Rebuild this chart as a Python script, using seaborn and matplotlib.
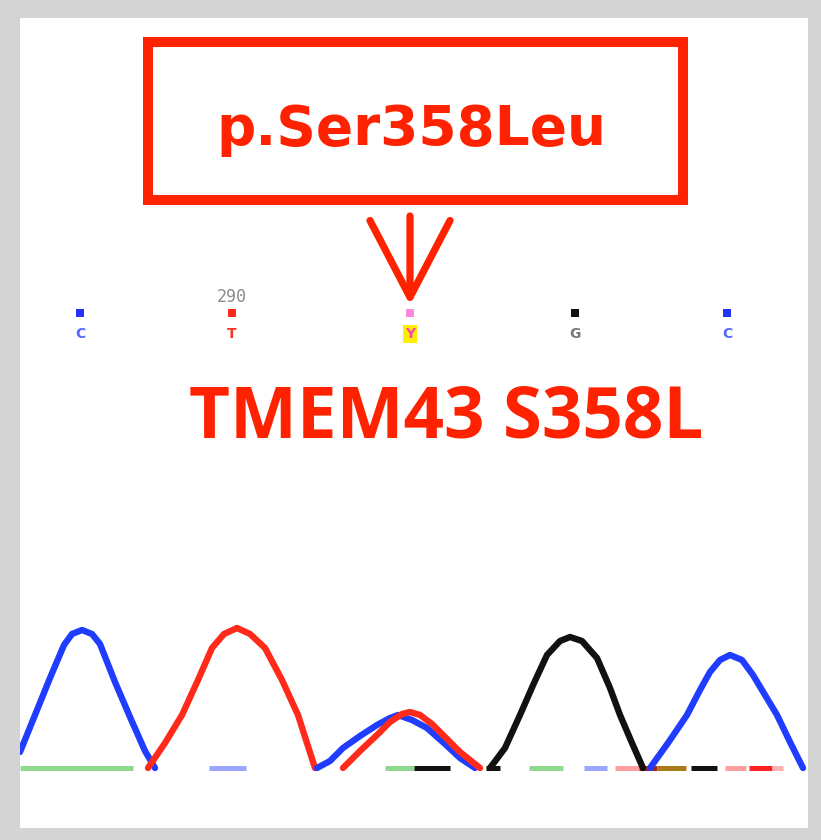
import numpy as np
import pandas as pd
import matplotlib
matplotlib.use("Agg")
import matplotlib.pyplot as plt
import matplotlib.patches as mpatches
import seaborn as sns

# chromatogram traces (scan position, signal height)
blue1_x = [0, 15, 30, 44, 52, 62, 72, 80, 95, 110, 125, 135]
blue1_y = [16, 53, 90, 123, 134, 138, 134, 124, 86, 51, 17, 0]
red1_x = [128, 145, 162, 178, 192, 204, 217, 230, 245, 262, 278, 295]
red1_y = [0, 25, 53, 88, 120, 134, 140, 134, 120, 88, 53, 0]
blue2_x = [297, 310, 323, 340, 357, 370, 378, 392, 407, 425, 440, 455]
blue2_y = [0, 7, 20, 32, 43, 50, 53, 48, 40, 24, 10, 0]
red2_x = [323, 340, 357, 370, 382, 390, 400, 412, 423, 440, 460]
red2_y = [0, 17, 33, 46, 54, 56, 53, 44, 33, 16, 0]
black_x = [470, 485, 500, 514, 527, 540, 550, 562, 577, 590, 600, 612, 623]
black_y = [0, 20, 53, 85, 113, 127, 131, 127, 110, 80, 53, 25, 0]
blue3_x = [630, 648, 667, 680, 690, 700, 710, 722, 733, 745, 757, 770, 783]
blue3_y = [0, 25, 53, 78, 96, 108, 113, 108, 93, 73, 53, 26, 0]

# low-level noise pieces lying on the baseline
base_start = [0, 189, 365, 394, 466, 509, 564, 595, 619, 637, 671, 705, 729, 752]
base_end = [113, 226, 394, 430, 480, 543, 587, 619, 637, 666, 697, 726, 752, 763]
base_color = ["#8fd98f", "#9aa6ff", "#8fd98f", "#111111", "#111111", "#8fd98f", "#9aa6ff",
              "#ffa0a0", "#aa2222", "#a87a1a", "#111111", "#ffa0a0", "#ff2020", "#ffb0b0"]

# base calls
call_pos = [60, 212, 390, 555, 707]
call_base = ["C", "T", "Y", "G", "C"]
call_color = ["#2233ff", "#ff2a1a", "#ff88dd", "#111111", "#2233ff"]
call_text = ["#5566ff", "#ff3322", "#ff44aa", "#777777", "#5566ff"]
ruler_pos = 212
ruler_label = "290"

box_label = "p.Ser358Leu"
title_label = "TMEM43 S358L"

RED = "#ff2200"

sns.set_theme(style="white")
plt.rcParams['font.family'] = ['DejaVu Sans']

fig = plt.figure(figsize=(8.21, 8.40), dpi=100, facecolor="#d4d4d4")
ax = fig.add_axes([20 / 821, 12 / 840, 788 / 821, 810 / 840])
ax.set_facecolor("white")
ax.set_xlim(0, 788)
ax.set_ylim(-60, 750)
ax.set_xticks([])
ax.set_yticks([])
for s in ax.spines.values():
    s.set_visible(False)

# baseline noise
ax.hlines([0] * len(base_start), base_start, base_end, colors=base_color,
          linewidth=3.6, zorder=1)

traces = [
    (blue1_x, blue1_y, "#1f3cff"),
    (red1_x, red1_y, "#ff2a1a"),
    (blue2_x, blue2_y, "#1f3cff"),
    (red2_x, red2_y, "#ff2a1a"),
    (black_x, black_y, "#111111"),
    (blue3_x, blue3_y, "#1f3cff"),
]
for tx, ty, col in traces:
    sns.lineplot(x=tx, y=ty, ax=ax, color=col, linewidth=4.6, sort=False,
                 estimator=None, solid_joinstyle="round", solid_capstyle="round", zorder=2)

# base call marks
ax.scatter(call_pos, [455] * len(call_pos), marker="s", s=40, c=call_color,
           linewidths=0, zorder=3)
for x, b, c in zip(call_pos, call_base, call_text):
    kw = {}
    if b == "Y":
        kw["bbox"] = dict(boxstyle="square,pad=0.15", fc="#ffee00", ec="none")
    ax.text(x, 430, b, ha="center", va="baseline", fontsize=10, color=c,
            fontweight="bold", **kw)
ax.text(ruler_pos, 466, ruler_label, ha="center", va="baseline", fontsize=12,
        color="#8a8a8a", family="DejaVu Sans Mono")

# label box with arrow
ax.add_patch(mpatches.Rectangle((128, 568), 535, 158, fill=False, ec=RED,
                                lw=7.2, joinstyle="miter", zorder=4))
ax.text(391, 623, box_label, ha="center", va="baseline", fontsize=39.5,
        fontweight="bold", color=RED)
ax.annotate("", xy=(390, 463), xytext=(390, 552),
            arrowprops=dict(arrowstyle="->,head_length=4.6,head_width=2.4",
                            color=RED, lw=5.2, shrinkA=0, shrinkB=0))

ax.text(426, 331, title_label, ha="center", va="baseline", fontsize=51,
        fontweight="bold", color=RED, family=["Open Sans", "DejaVu Sans"])

fig.savefig("out.png", dpi=100, facecolor=fig.get_facecolor())
